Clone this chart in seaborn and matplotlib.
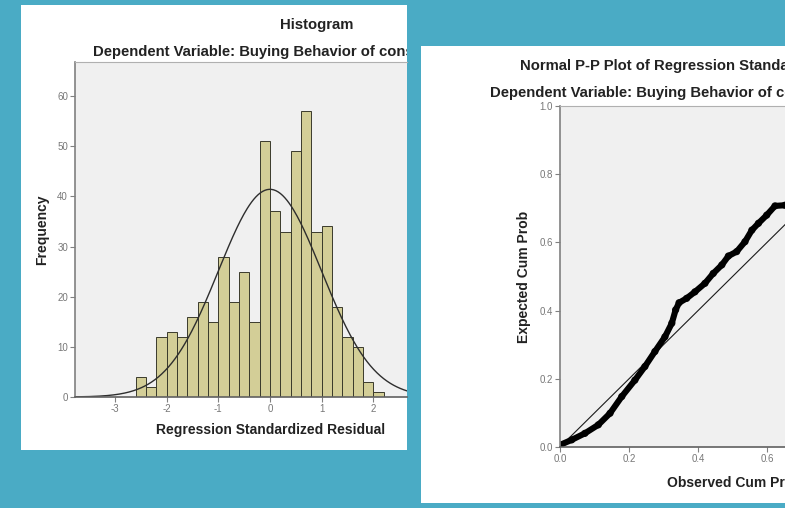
import numpy as np
import seaborn as sns
import matplotlib.pyplot as plt
from matplotlib.patches import Rectangle
from matplotlib.transforms import Bbox, TransformedBbox

plt.rcParams['font.family'] = ['Liberation Sans', 'DejaVu Sans']

# histogram of standardized residuals (bin width 0.2)
bin_edges = [-2.6, -2.4, -2.2, -2.0, -1.8, -1.6, -1.4, -1.2, -1.0, -0.8, -0.6, -0.4, -0.2,
             0.0, 0.2, 0.4, 0.6, 0.8, 1.0, 1.2, 1.4, 1.6, 1.8, 2.0, 2.2]
freq = [4, 2, 12, 13, 12, 16, 19, 15, 28, 19, 25, 15, 51,
        37, 33, 49, 57, 33, 34, 18, 12, 10, 3, 1]
res_mean = 0.0
res_sd = 0.998
n_cases = 518

# normal P-P plot points
obs_cum = [0.0, 0.034, 0.072, 0.111, 0.145, 0.179, 0.217, 0.246, 0.275, 0.304, 0.324,
           0.335, 0.345, 0.367, 0.391, 0.42, 0.444, 0.469, 0.488, 0.512, 0.536, 0.556,
           0.575, 0.599, 0.623, 0.652]
exp_cum = [0.006, 0.021, 0.040, 0.065, 0.099, 0.148, 0.196, 0.236, 0.28, 0.323, 0.363,
           0.402, 0.423, 0.436, 0.455, 0.48, 0.509, 0.534, 0.56, 0.573, 0.602, 0.636,
           0.656, 0.68, 0.707, 0.709]

hist_yticks = [0, 10, 20, 30, 40, 50, 60]
hist_xticks = [-3, -2, -1, 0, 1, 2]
pp_yticks = [0.0, 0.2, 0.4, 0.6, 0.8, 1.0]
pp_xticks = [0.0, 0.2, 0.4, 0.6]

W, H = 785, 508
TEAL = '#4AABC5'
BG = '#F0F0F0'
TICKC = '#777777'
TXT = '#222222'


def fx(px):
    return px / W


def fy(py):
    return 1 - py / H


fig = plt.figure(figsize=(W / 100, H / 100), dpi=100, facecolor=TEAL)

# white "screenshot" panels
for (x0, y0, x1, y1) in [(21, 5, 407, 450), (421, 46, 785, 503)]:
    fig.patches.append(Rectangle((fx(x0), fy(y1)), fx(x1) - fx(x0), (y1 - y0) / H,
                                 transform=fig.transFigure, facecolor='white',
                                 edgecolor='none', zorder=-1))


def style_axes(ax):
    ax.set_facecolor(BG)
    ax.spines['right'].set_visible(False)
    ax.spines['left'].set_color('#808080')
    ax.spines['left'].set_linewidth(1.2)
    ax.spines['bottom'].set_color('#606060')
    ax.spines['bottom'].set_linewidth(1.2)
    ax.spines['top'].set_color('#b0b0b0')
    ax.spines['top'].set_linewidth(0.8)
    ax.tick_params(length=3.5, width=0.8, color='#808080', labelsize=7,
                   labelcolor=TICKC, pad=1.5)
    ax.set_xlabel('')
    ax.set_ylabel('')


# ---- Histogram ----
ax1 = fig.add_axes([fx(75), fy(397), fx(407) - fx(75), (397 - 62) / H])
bin_mid = [(a + b) / 2 for a, b in zip(bin_edges[:-1], bin_edges[1:])]
sns.histplot(x=bin_mid, weights=freq, bins=bin_edges, color='#D3CE97', alpha=1,
             edgecolor='#3a3a2c', linewidth=0.7, ax=ax1)
xs = np.linspace(-3.77, 2.65, 300)
bw = bin_edges[1] - bin_edges[0]
ys = n_cases * bw * np.exp(-0.5 * ((xs - res_mean) / res_sd) ** 2) / (res_sd * np.sqrt(2 * np.pi))
sns.lineplot(x=xs, y=ys, color='#2e2e2e', lw=1.0, ax=ax1)
ax1.set_xticks(hist_xticks)
ax1.set_xticklabels([str(v) for v in hist_xticks])
ax1.set_yticks(hist_yticks)
ax1.set_xlim(-3.77, 2.65)
ax1.set_ylim(0, 66.8)
style_axes(ax1)

clip_left = TransformedBbox(Bbox.from_extents(fx(21), fy(450), fx(407), fy(5)), fig.transFigure)
fig.text(fx(317), fy(25), 'Histogram', ha='center', va='center', fontsize=10.7,
         fontweight='bold', color=TXT)
t = fig.text(fx(93), fy(52), 'Dependent Variable: Buying Behavior of consumers',
             ha='left', va='center', fontsize=10.7, fontweight='bold', color=TXT)
t.set_clip_box(clip_left)
t.set_clip_on(True)
fig.text(fx(271), fy(430), 'Regression Standardized Residual', ha='center', va='center',
         fontsize=10, fontweight='bold', color=TXT)
fig.text(fx(42), fy(230), 'Frequency', ha='center', va='center', rotation=90,
         fontsize=10, fontweight='bold', color=TXT)

# ---- Normal P-P plot ----
ax2 = fig.add_axes([fx(560), fy(447), fx(785) - fx(560), (447 - 106) / H])
ax2.plot([0, 1], [0, 1], color='#1a1a1a', lw=0.8)
sns.lineplot(x=obs_cum, y=exp_cum, sort=False, color='black', lw=4.4,
             solid_joinstyle='round', solid_capstyle='round', ax=ax2)
sns.scatterplot(x=obs_cum, y=exp_cum, s=16, facecolor='none', edgecolor='#111111',
                linewidth=1.2, ax=ax2)
ax2.set_xticks(pp_xticks)
ax2.set_yticks(pp_yticks)
ax2.set_xticklabels([f'{v:.1f}' for v in pp_xticks])
ax2.set_yticklabels([f'{v:.1f}' for v in pp_yticks])
ax2.set_xlim(0, 0.652)
ax2.set_ylim(0, 1.0)
style_axes(ax2)
ax2.spines['top'].set_linestyle((0, (2, 1)))

fig.text(fx(520), fy(66), 'Normal P-P Plot of Regression Standardized Residual',
         ha='left', va='center', fontsize=10.7, fontweight='bold', color=TXT)
fig.text(fx(490), fy(93), 'Dependent Variable: Buying Behavior of consumers',
         ha='left', va='center', fontsize=10.7, fontweight='bold', color=TXT)
fig.text(fx(667), fy(483), 'Observed Cum Prob', ha='left', va='center',
         fontsize=10, fontweight='bold', color=TXT)
fig.text(fx(524), fy(277), 'Expected Cum Prob', ha='center', va='center', rotation=90,
         fontsize=10, fontweight='bold', color=TXT)

fig.savefig('out.png', dpi=100, facecolor=TEAL)
